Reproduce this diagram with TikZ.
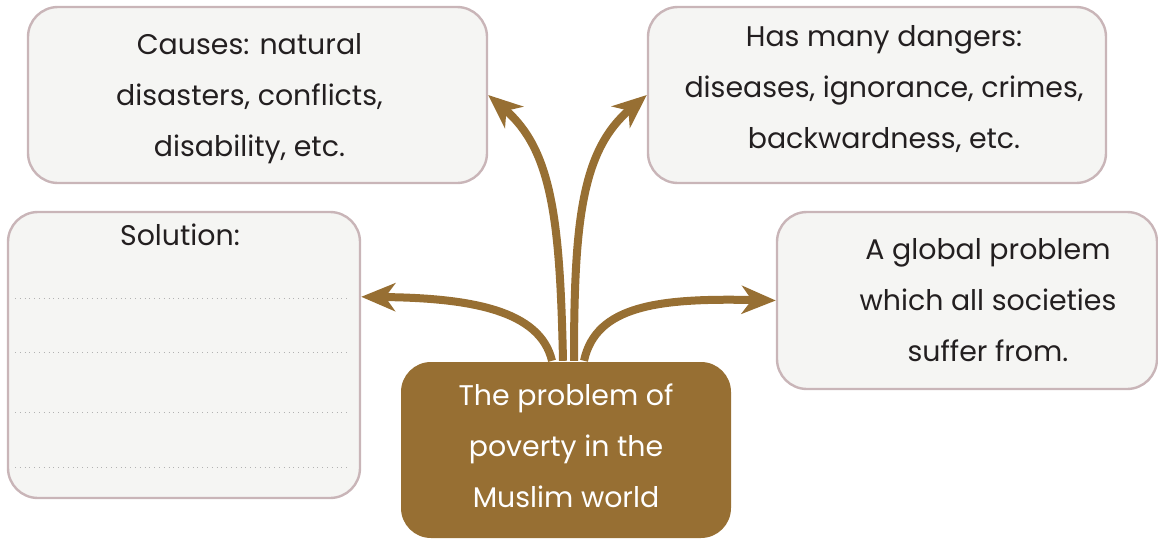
\documentclass[tikz,border=0pt]{standalone}
\usepackage{fontspec}
\setmainfont{Poppins}
\usepackage{xcolor}
\usetikzlibrary{arrows.meta, positioning, calc}
\definecolor{brownfill}{HTML}{976F33}
\definecolor{boxline}{HTML}{C9B5B8}
\definecolor{boxfill}{HTML}{F5F5F3}
\definecolor{inktext}{HTML}{231F20}

\begin{document}
\begin{tikzpicture}[
  x=0.5pt, y=-0.5pt,
  box/.style={draw=boxline, line width=1.2pt, fill=boxfill, rounded corners=15pt, align=center, font=\fontsize{14.2}{25.5}\selectfont, text=inktext, inner sep=0pt},
  core/.style={box, draw=none, fill=brownfill, text=white},
  arrow/.style={-{Stealth[length=17pt, width=14pt, inset=5pt]}, line width=4pt, draw=brownfill},
  dots/.style={draw=gray!60, line width=0.4pt, dotted}
]
  \useasboundingbox (0,0) rectangle (1158,541);

  % Side boxes
  \node[box, minimum width=229.5pt, minimum height=88pt] (causes) at (257.5,95) {\rule{0pt}{14.5pt}\hspace*{-8pt}Causes: natural\\\hspace*{-8pt}disasters, conflicts,\\\hspace*{-8pt}disability, etc.};
  \node[box, minimum width=229pt, minimum height=88pt] (dangers) at (877,95) {\hspace*{7pt}Has many dangers:\\\hspace*{7pt}diseases, ignorance, crimes,\\\hspace*{7pt}backwardness, etc.\\[-17pt]\mbox{}};
  \node[box, minimum width=176pt, minimum height=143pt] (sol) at (184,355) {};
  \node[font=\fontsize{14.2}{16}\selectfont, text=inktext, inner sep=0pt] (soltitle) at (180,235) {Solution:};
  \node[box, minimum width=190pt, minimum height=88.5pt] (glob) at (967,300.5) {\hspace*{21pt}A global problem\\\hspace*{21pt}which all societies\\\hspace*{21pt}suffer from.};

  % Centre
  \node[core, minimum width=165pt, minimum height=88pt] (ctr) at (566,450) {The problem of\\poverty in the\\Muslim world\\[-21pt]\mbox{}};

  % Lines to write on
  \foreach \yy in {298,352,412,467}
    \draw[dots] (15,\yy) -- (350,\yy);

  % Arrows
  \draw[arrow] ($(ctr.north)+(-14,0)$) .. controls (540,310) and (470,298) .. ($(sol.north east)+(0,86)$);
  \draw[arrow] ($(ctr.north)+(-3,0)$) .. controls (560,220) and (552,150) .. (causes.east);
  \draw[arrow] ($(ctr.north)+(8,0)$) .. controls (574,220) and (582,150) .. (dangers.west);
  \draw[arrow] ($(ctr.north)+(18,0)$) .. controls (596,305) and (660,298) .. (glob.west);

\end{tikzpicture}
\end{document}
